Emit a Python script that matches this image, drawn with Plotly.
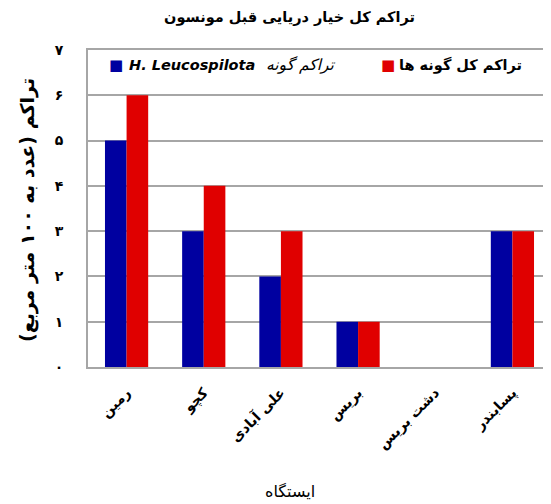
import plotly.graph_objects as go

stations = ["رمین", "کچو", "علی آبادی", "بریس", "دشت بریس", "پسابندر"]
leuco = [5, 3, 2, 1, 0, 3]
total = [6, 4, 3, 1, 0, 3]
ytick_vals = [0, 1, 2, 3, 4, 5, 6, 7]
ytick_text = ["۰", "۱", "۲", "۳", "۴", "۵", "۶", "۷"]

title_text = "تراکم کل خیار دریایی قبل مونسون"
ytitle_text = "تراکم (عدد به ۱۰۰ متر مربع)"
xtitle_text = "ایستگاه"
leg_blue_latin = "H. Leucospilota"
leg_blue_fa = "تراکم گونه"
leg_red = "تراکم کل گونه ها"

BLUE = "#0000A0"
RED = "#E00000"
GRID = "#A6A6A6"
FONT = "DejaVu Sans"

fig = go.Figure()
fig.add_trace(go.Bar(x=stations, y=leuco, marker=dict(color=BLUE, line=dict(width=0)), name="b"))
fig.add_trace(go.Bar(x=stations, y=total, marker=dict(color=RED, line=dict(width=0)), name="r"))

# page body margin offsets the figure by ~8px
O = 8
W, H = 551 - O, 504 - O
L, R, T, B = 88 - O, 0, 50 - O, 504 - 367
pw = W - L - R
ph = H - T - B

def px2paper(px):
    return (px - O - L) / pw

def py2paper(py):
    return (H - B - (py - O)) / ph

ann = []
ann.append(dict(text=title_text, xref="paper", yref="paper",
                x=px2paper(289), y=py2paper(18), xanchor="center", yanchor="middle",
                showarrow=False, font=dict(family=FONT, size=14.5, color="black", weight="bold")))
ann.append(dict(text=ytitle_text, xref="paper", yref="paper",
                x=px2paper(27), y=py2paper(210), xanchor="center", yanchor="middle",
                textangle=-90, showarrow=False, font=dict(family=FONT, size=19, color="black", weight="bold")))
ann.append(dict(text=xtitle_text, xref="paper", yref="paper",
                x=px2paper(290), y=py2paper(491), xanchor="center", yanchor="middle",
                showarrow=False, font=dict(family=FONT, size=16, color="black")))
ly = py2paper(65)
ann.append(dict(text="■", xref="paper", yref="paper", x=px2paper(116), y=ly, xanchor="center", yanchor="middle",
                showarrow=False, font=dict(family=FONT, size=15, color=BLUE)))
ann.append(dict(text="<b><i>" + leg_blue_latin + "</i></b>", xref="paper", yref="paper",
                x=px2paper(127), y=ly, xanchor="left", yanchor="middle",
                showarrow=False, font=dict(family=FONT, size=14.5, color="black")))
ann.append(dict(text="<i>" + leg_blue_fa + "</i>", xref="paper", yref="paper",
                x=px2paper(264), y=ly, xanchor="left", yanchor="middle",
                showarrow=False, font=dict(family=FONT, size=15.5, color="black")))
ann.append(dict(text="■", xref="paper", yref="paper", x=px2paper(388), y=ly, xanchor="center", yanchor="middle",
                showarrow=False, font=dict(family=FONT, size=15, color=RED)))
ann.append(dict(text="<b>" + leg_red + "</b>", xref="paper", yref="paper",
                x=px2paper(397), y=ly, xanchor="left", yanchor="middle",
                showarrow=False, font=dict(family=FONT, size=14.5, color="black")))

fig.update_layout(
    width=W, height=H,
    margin=dict(l=L, r=R, t=T, b=B, autoexpand=False),
    paper_bgcolor="white", plot_bgcolor="white",
    barmode="group", bargap=0.44, bargroupgap=0,
    showlegend=False,
    annotations=ann,
    font=dict(family=FONT, color="black"),
)
fig.update_xaxes(showline=True, linecolor=GRID, linewidth=2, mirror=True, automargin=False,
                 tickangle=-45, tickfont=dict(family=FONT, size=14, color="black", weight="bold"),
                 ticks="", showgrid=False, ticklabelstandoff=10)
fig.update_yaxes(range=[0, 7], tickvals=ytick_vals, ticktext=ytick_text, automargin=False,
                 tickfont=dict(family=FONT, size=14, color="black", weight="bold"),
                 showline=True, linecolor=GRID, linewidth=2, mirror=True,
                 showgrid=True, gridcolor=GRID, gridwidth=1.5, zeroline=False,
                 ticklabelstandoff=20)

fig.write_html("out.html")
